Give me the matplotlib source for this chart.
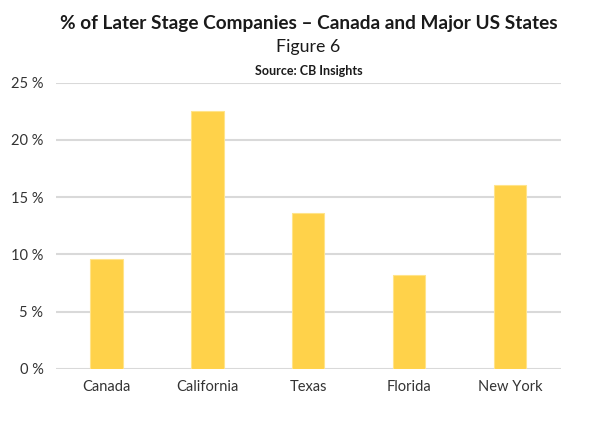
import numpy as np
import matplotlib.pyplot as plt

regions = ['Canada', 'California', 'Texas', 'Florida', 'New York']
share = [9.6, 22.5, 13.6, 8.2, 16.1]
yticks = [0, 5, 10, 15, 20, 25]

plt.rcParams['font.family'] = ['Lato', 'DejaVu Sans']

fig = plt.figure(figsize=(5.9, 4.34), dpi=100)
ax = fig.add_axes([0.0949, 0.1498, 0.8554, 0.6597])

x = np.arange(len(regions))
ax.bar(x, share, width=0.32, color='#FFD24A', edgecolor='#FFE48A', linewidth=0.8, zorder=3)

ax.set_xlim(-0.5, len(regions) - 0.5)
ax.set_ylim(0, 25)
ax.set_yticks(yticks)
ax.set_yticklabels([f'{t} %' for t in yticks])
ax.set_xticks(x)
ax.set_xticklabels(regions)
ax.grid(axis='y', color='#D9D9D9', linewidth=1.5, zorder=0)
for s in ax.spines.values():
    s.set_visible(False)
ax.tick_params(length=0, labelsize=10.5, colors='#333333')
ax.tick_params(axis='y', pad=9)
ax.tick_params(axis='x', pad=8)

cx = 0.0949 + 0.8554 / 2
fig.text(cx, 0.945, '% of Later Stage Companies \u2013 Canada and Major US States',
         ha='center', va='center', fontsize=13.7, fontweight='bold', color='#1a1a1a')
fig.text(cx, 0.891, 'Figure 6', ha='center', va='center', fontsize=12.8, color='#1a1a1a')
fig.text(cx, 0.836, 'Source: CB Insights', ha='center', va='center', fontsize=9,
         fontweight='bold', color='#1a1a1a')

fig.savefig('out.png', dpi=100)
